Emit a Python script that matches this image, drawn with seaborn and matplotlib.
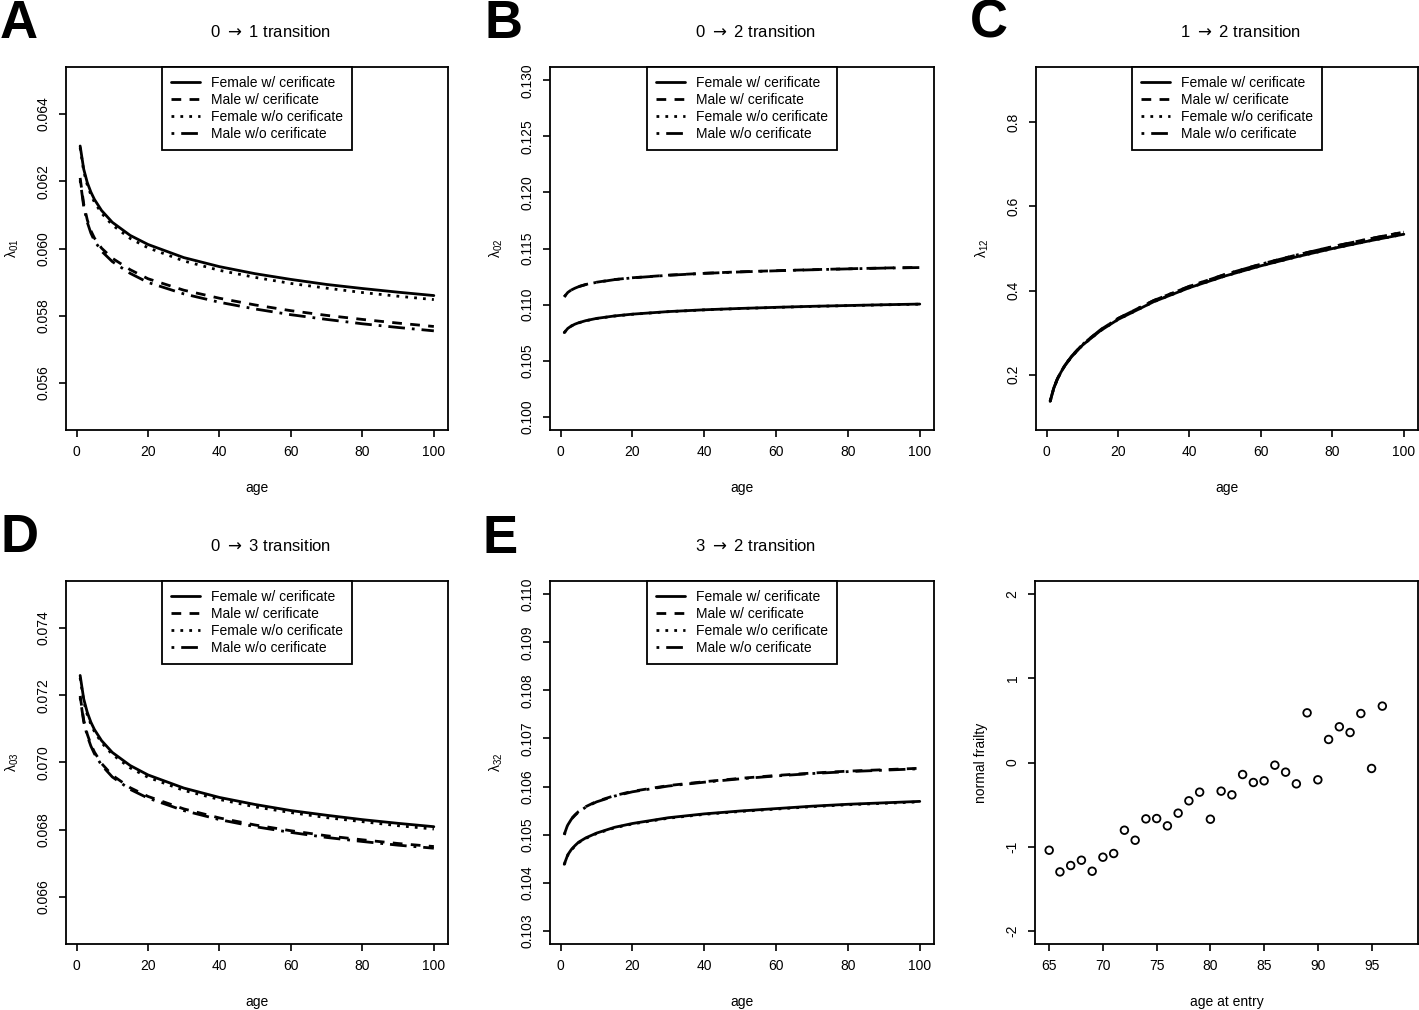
import numpy as np
import pandas as pd
import matplotlib
matplotlib.use("Agg")
import matplotlib.pyplot as plt
import seaborn as sns
from matplotlib.lines import Line2D

# ---------------- data ----------------
age = [1, 2, 3, 4, 5, 7, 10, 15, 20, 30, 40, 50, 60, 70, 80, 90, 100]
group_labels = ["Female w/ cerificate", "Male w/ cerificate",
                "Female w/o cerificate", "Male w/o cerificate"]

# A: 0 -> 1 transition
a_fw = [0.06305, 0.06236, 0.06196, 0.06168, 0.06146, 0.06113, 0.06078, 0.06039, 0.06012,
        0.05973, 0.05946, 0.05925, 0.05908, 0.05893, 0.05881, 0.05870, 0.05860]
a_mw = [0.06210, 0.06132, 0.06085, 0.06053, 0.06031, 0.06001, 0.05971, 0.05937, 0.05910,
        0.05876, 0.05852, 0.05832, 0.05815, 0.05801, 0.05789, 0.05778, 0.05768]
a_fwo = [0.06300, 0.06230, 0.06189, 0.06160, 0.06138, 0.06105, 0.06070, 0.06030, 0.06002,
         0.05963, 0.05935, 0.05914, 0.05896, 0.05882, 0.05869, 0.05858, 0.05848]
a_mwo = [0.06203, 0.06125, 0.06078, 0.06046, 0.06023, 0.05992, 0.05961, 0.05926, 0.05899,
         0.05865, 0.05840, 0.05820, 0.05803, 0.05789, 0.05776, 0.05765, 0.05755]

# B: 0 -> 2 transition
b_fw = [0.10749, 0.10787, 0.10809, 0.10825, 0.10837, 0.10856, 0.10876, 0.10898, 0.10914,
        0.10937, 0.10953, 0.10965, 0.10975, 0.10984, 0.10991, 0.10998, 0.11004]
b_mw = [0.11069, 0.11108, 0.11131, 0.11147, 0.11160, 0.11179, 0.11199, 0.11223, 0.11239,
        0.11262, 0.11279, 0.11292, 0.11302, 0.11311, 0.11319, 0.11326, 0.11331]
b_fwo = [0.10748, 0.10786, 0.10808, 0.10824, 0.10836, 0.10855, 0.10875, 0.10897, 0.10913,
         0.10936, 0.10952, 0.10964, 0.10974, 0.10983, 0.10990, 0.10997, 0.11003]
b_mwo = [0.11068, 0.11107, 0.11130, 0.11146, 0.11159, 0.11178, 0.11198, 0.11222, 0.11238,
         0.11261, 0.11278, 0.11291, 0.11301, 0.11310, 0.11318, 0.11325, 0.11330]

# C: 1 -> 2 transition
c_fw = [0.1360, 0.1671, 0.1885, 0.2053, 0.2194, 0.2424, 0.2695, 0.3040, 0.3311,
        0.3734, 0.4068, 0.4347, 0.4588, 0.4803, 0.4998, 0.5176, 0.5340]
c_mw = [0.1365, 0.1678, 0.1894, 0.2064, 0.2206, 0.2438, 0.2712, 0.3061, 0.3335,
        0.3763, 0.4101, 0.4384, 0.4628, 0.4846, 0.5044, 0.5225, 0.5391]
c_fwo = [0.1359, 0.1670, 0.1884, 0.2052, 0.2193, 0.2423, 0.2694, 0.3039, 0.3310,
         0.3733, 0.4067, 0.4346, 0.4587, 0.4802, 0.4997, 0.5175, 0.5339]
c_mwo = [0.1364, 0.1677, 0.1893, 0.2063, 0.2205, 0.2437, 0.2711, 0.3060, 0.3334,
         0.3762, 0.4100, 0.4383, 0.4627, 0.4845, 0.5043, 0.5224, 0.5390]

# D: 0 -> 3 transition
d_fw = [0.07259, 0.07189, 0.07149, 0.07120, 0.07098, 0.07065, 0.07030, 0.06991, 0.06963,
        0.06924, 0.06896, 0.06875, 0.06857, 0.06843, 0.06830, 0.06819, 0.06809]
d_mw = [0.07198, 0.07126, 0.07084, 0.07054, 0.07031, 0.06997, 0.06962, 0.06925, 0.06899,
        0.06862, 0.06835, 0.06814, 0.06797, 0.06782, 0.06770, 0.06759, 0.06750]
d_fwo = [0.07252, 0.07182, 0.07142, 0.07114, 0.07092, 0.07059, 0.07024, 0.06984, 0.06956,
         0.06917, 0.06890, 0.06868, 0.06851, 0.06836, 0.06824, 0.06812, 0.06802]
d_mwo = [0.07193, 0.07121, 0.07079, 0.07049, 0.07026, 0.06992, 0.06957, 0.06920, 0.06894,
         0.06857, 0.06830, 0.06809, 0.06792, 0.06777, 0.06765, 0.06754, 0.06745]

# E: 3 -> 2 transition
e_fw = [0.10438, 0.10458, 0.10469, 0.10477, 0.10484, 0.10493, 0.10503, 0.10515, 0.10523,
        0.10535, 0.10543, 0.10549, 0.10554, 0.10559, 0.10563, 0.10566, 0.10569]
e_mw = [0.10500, 0.10521, 0.10533, 0.10541, 0.10548, 0.10558, 0.10569, 0.10581, 0.10590,
        0.10602, 0.10610, 0.10617, 0.10623, 0.10628, 0.10632, 0.10635, 0.10638]
e_fwo = [0.10437, 0.10457, 0.10468, 0.10476, 0.10483, 0.10492, 0.10502, 0.10514, 0.10522,
         0.10534, 0.10542, 0.10548, 0.10553, 0.10558, 0.10562, 0.10565, 0.10568]
e_mwo = [0.10499, 0.10520, 0.10532, 0.10540, 0.10547, 0.10557, 0.10568, 0.10580, 0.10589,
         0.10601, 0.10609, 0.10616, 0.10622, 0.10627, 0.10631, 0.10634, 0.10637]

# F: normal frailty vs age at entry
entry_age = [65, 66, 67, 68, 69, 70, 71, 72, 73, 74, 75, 76, 77, 78, 79, 80,
             81, 82, 83, 84, 85, 86, 87, 88, 89, 90, 91, 92, 93, 94, 95, 96]
frailty = [-1.044, -1.302, -1.226, -1.163, -1.294, -1.127, -1.083, -0.806, -0.925, -0.671,
           -0.667, -0.754, -0.603, -0.456, -0.353, -0.675, -0.341, -0.385, -0.143, -0.238,
           -0.218, -0.032, -0.115, -0.254, 0.591, -0.206, 0.274, 0.425, 0.357, 0.583,
           -0.071, 0.671]

panel_titles = [r"0 $\rightarrow$ 1 transition", r"0 $\rightarrow$ 2 transition",
                r"1 $\rightarrow$ 2 transition", r"0 $\rightarrow$ 3 transition",
                r"3 $\rightarrow$ 2 transition"]
panel_ylabels = [r"λ$_{\mathregular{01}}$", r"λ$_{\mathregular{02}}$", r"λ$_{\mathregular{12}}$",
                 r"λ$_{\mathregular{03}}$", r"λ$_{\mathregular{32}}$"]
panel_letters = ["A", "B", "C", "D", "E"]
age_ticks = [0, 20, 40, 60, 80, 100]
yticks_A = [0.056, 0.058, 0.060, 0.062, 0.064]
yticks_B = [0.100, 0.105, 0.110, 0.115, 0.120, 0.125, 0.130]
yticks_C = [0.2, 0.4, 0.6, 0.8]
yticks_D = [0.066, 0.068, 0.070, 0.072, 0.074]
yticks_E = [0.103, 0.104, 0.105, 0.106, 0.107, 0.108, 0.109, 0.110]
yticks_F = [-2, -1, 0, 1, 2]
xticks_F = [65, 70, 75, 80, 85, 90, 95]

# ---------------- style ----------------
sns.set_theme(style="white", rc={
    "axes.edgecolor": "black", "axes.linewidth": 1.3,
    "xtick.color": "black", "ytick.color": "black",
    "xtick.bottom": True, "ytick.left": True,
    "axes.unicode_minus": False,
    "text.color": "black", "axes.labelcolor": "black",
    "axes.titlecolor": "black",
})
plt.rcParams["font.family"] = ["Liberation Sans", "DejaVu Sans"]
plt.rcParams["mathtext.fontset"] = "custom"
plt.rcParams["mathtext.rm"] = "Liberation Sans"
plt.rcParams["mathtext.it"] = "Liberation Sans:italic"
plt.rcParams["mathtext.bf"] = "Liberation Sans:bold"

dash_map = {
    group_labels[0]: "",
    group_labels[1]: (3.5, 3.0),
    group_labels[2]: (1.0, 2.2),
    group_labels[3]: (1.0, 2.5, 6.0, 2.5),
}

W, H = 1419, 1010
fig = plt.figure(figsize=(W / 100, H / 100), dpi=100)


def add_ax(l, t, r, b):
    return fig.add_axes([l / W, 1 - b / H, (r - l) / W, (b - t) / H])


def style_axes(ax, xlabel, ylabel, title=None):
    ax.tick_params(axis="both", direction="out", length=5, width=1.2,
                   labelsize=10, pad=6, colors="black")
    ax.tick_params(axis="y", labelrotation=90)
    for lab in ax.get_yticklabels():
        lab.set_va("center")
    for sp in ax.spines.values():
        sp.set_linewidth(1.3)
        sp.set_color("black")
    bw = ax.get_position().width * W
    bh = ax.get_position().height * H
    ax.set_xlabel(xlabel, fontsize=10, va="center", color="black")
    ax.xaxis.set_label_coords(0.5, -58 / bh)
    ax.set_ylabel(ylabel, fontsize=10, va="center", color="black")
    ax.yaxis.set_label_coords(-54 / bw, 0.5)
    if title is not None:
        ax.set_title(title, fontsize=12, x=0.5 + 14 / bw, y=1 + 35 / bh,
                     va="center", pad=0, color="black", math_fontfamily="dejavusans")


curve_sets = [
    (a_fw, a_mw, a_fwo, a_mwo),
    (b_fw, b_mw, b_fwo, b_mwo),
    (c_fw, c_mw, c_fwo, c_mwo),
    (d_fw, d_mw, d_fwo, d_mwo),
    (e_fw, e_mw, e_fwo, e_mwo),
]
ylims = [(0.0546, 0.0654), (0.0988, 0.1312), (0.068, 0.932), (0.0646, 0.0754), (0.10272, 0.11028)]
yticks_all = [yticks_A, yticks_B, yticks_C, yticks_D, yticks_E]
ytick_fmt = ["{:.3f}", "{:.3f}", "{:.1f}", "{:.3f}", "{:.3f}"]
boxes = [(66, 67, 448, 430), (550, 67, 934, 430), (1036, 67, 1418, 430),
         (66, 581, 448, 944), (550, 581, 934, 944)]
letter_pos = [(0, 38), (484, 38), (970, 38), (0, 552), (482, 553)]

for i in range(5):
    ax = add_ax(*boxes[i])
    rows = []
    for lab, vals in zip(group_labels, curve_sets[i]):
        for a, v in zip(age, vals):
            rows.append({"age": a, "rate": v, "group": lab})
    df = pd.DataFrame(rows)
    sns.lineplot(data=df, x="age", y="rate", style="group", style_order=group_labels,
                 dashes=dash_map, color="black", linewidth=2.0, ax=ax, legend=False,
                 estimator=None, sort=False)
    ax.set_xlim(-2.96, 103.96)
    ax.set_ylim(*ylims[i])
    ax.set_xticks(age_ticks)
    ax.set_xticklabels([str(t) for t in age_ticks])
    ax.set_yticks(yticks_all[i])
    ax.set_yticklabels([ytick_fmt[i].format(t) for t in yticks_all[i]])
    style_axes(ax, "age", panel_ylabels[i], panel_titles[i])

    handles = []
    for lab in group_labels:
        d = dash_map[lab]
        ls = "-" if d == "" else (0, d)
        handles.append(Line2D([], [], color="black", linewidth=2.0, linestyle=ls))
    leg = ax.legend(handles, group_labels, loc="upper center", bbox_to_anchor=(0.5, 1.0),
                    borderaxespad=0, frameon=True, fancybox=False, edgecolor="black",
                    framealpha=1, fontsize=10, handlelength=2.1, handletextpad=0.8,
                    labelspacing=0.22, borderpad=0.65, labelcolor="black")
    leg.get_frame().set_linewidth(1.3)

    lx, ly = letter_pos[i]
    fig.text(lx / W, 1 - ly / H, panel_letters[i], fontsize=38, fontweight="bold",
             ha="left", va="baseline", color="black")

# Panel F
axf = add_ax(1035, 581, 1418, 944)
sns.scatterplot(x=entry_age, y=frailty, ax=axf, marker="o", s=30,
                facecolors="none", edgecolor="black", linewidth=1.3)
axf.set_xlim(63.68, 99.32)
axf.set_ylim(-2.16, 2.16)
axf.set_xticks(xticks_F)
axf.set_xticklabels([str(t) for t in xticks_F])
axf.set_yticks(yticks_F)
axf.set_yticklabels([str(t) for t in yticks_F])
style_axes(axf, "age at entry", "normal frailty")

fig.savefig("out.png", dpi=100)
